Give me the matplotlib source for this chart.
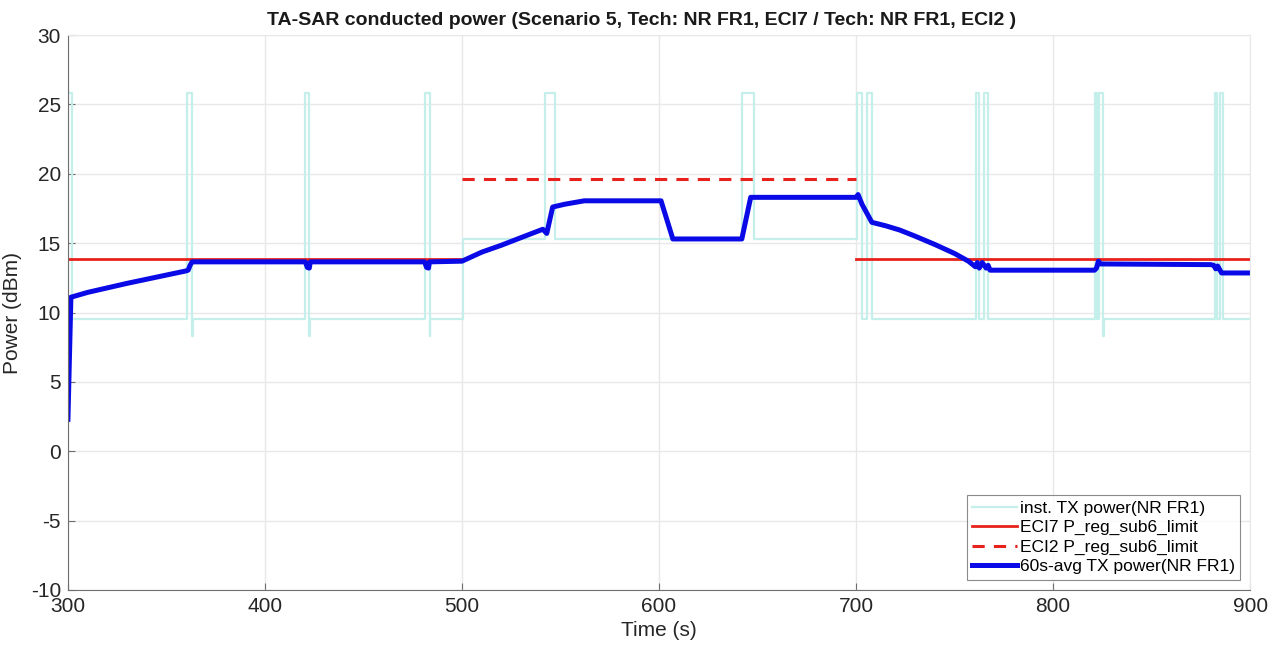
import numpy as np
import matplotlib.pyplot as plt

plt.rcParams['font.family'] = ['Liberation Sans', 'DejaVu Sans']
plt.rcParams['axes.unicode_minus'] = False

# instantaneous TX power, step trace (value holds until next time)
inst_t = [300, 302, 360.5, 363, 363.5, 420.5, 422.5, 423, 481, 483.5, 484,
          500.5, 542, 547, 642, 648,
          700.5, 703, 705.5, 708, 761, 762.5, 765, 767,
          821, 822.5, 823.5, 825.5, 826, 882, 883.2, 884.8, 886, 900]
inst_v = [25.8, 9.5, 25.8, 8.3, 9.5, 25.8, 8.3, 9.5, 25.8, 8.3, 9.5,
          15.3, 25.8, 15.3, 25.8, 15.3,
          25.8, 9.5, 25.8, 9.5, 25.8, 9.5, 25.8, 9.5,
          25.8, 9.5, 25.8, 8.3, 9.5, 25.8, 9.5, 25.8, 9.5, 9.5]

# 60 s average TX power
avg_t = [300, 301.5, 310, 330, 350, 360, 361, 362, 363,
         420.5, 421.5, 422.5, 423, 481, 482, 483, 483.5,
         500, 510, 520, 530, 541, 543, 546, 552, 562, 601, 607, 642, 646.5,
         700, 701, 703, 708, 715, 722, 730, 740, 750, 757, 760.5,
         761.5, 762.5, 764, 766, 767, 768, 821, 822, 823, 824,
         880, 881.5, 882.5, 883.5, 885.5, 900]
avg_v = [2.3, 11.1, 11.45, 12.1, 12.7, 13.0, 13.05, 13.4, 13.65,
         13.65, 13.25, 13.2, 13.65, 13.65, 13.25, 13.2, 13.65,
         13.7, 14.35, 14.85, 15.4, 16.0, 15.7, 17.6, 17.8, 18.05, 18.05, 15.3, 15.3, 18.3,
         18.3, 18.5, 17.8, 16.5, 16.25, 15.95, 15.5, 14.9, 14.25, 13.7, 13.3,
         13.6, 13.2, 13.6, 13.2, 13.4, 13.05, 13.05, 13.2, 13.7, 13.5,
         13.45, 13.4, 13.15, 13.35, 12.85, 12.85]

eci7_limit = 13.87
eci2_limit = 19.62
eci7_spans = [(300, 500), (700, 900)]
eci2_span = (500, 700)

fig = plt.figure(figsize=(12.77, 6.46), dpi=100)
ax = fig.add_axes([0.0532, 0.0867, 0.9258, 0.8591])

ax.step(inst_t, inst_v, where='post', color='#c4efeb', lw=1.6,
        label='inst. TX power(NR FR1)')
for i, (a, b) in enumerate(eci7_spans):
    ax.plot([a, b], [eci7_limit, eci7_limit], color='#e8211c', lw=2,
            label='ECI7 P_reg_sub6_limit' if i == 0 else None)
ax.plot(eci2_span, [eci2_limit, eci2_limit], color='#e8211c', lw=2.2,
        ls=(0, (4, 3)), label='ECI2 P_reg_sub6_limit')
ax.plot(avg_t, avg_v, color='#0a0ae6', lw=3.6, solid_joinstyle='round',
        label='60s-avg TX power(NR FR1)')

ax.set_xlim(300, 900)
ax.set_ylim(-10, 30)
ax.set_xticks(np.arange(300, 901, 100))
ax.set_yticks(np.arange(-10, 31, 5))
ax.grid(True, color='#e8e8e8', lw=1)
ax.set_axisbelow(True)
for s in ['top', 'right']:
    ax.spines[s].set_color('#e8e8e8')
for s in ['left', 'bottom']:
    ax.spines[s].set_color('#6e6e6e')
ax.tick_params(direction='in', length=5, colors='#6e6e6e', labelcolor='#262626',
               labelsize=15, pad=5)

ax.set_xlabel('Time (s)', fontsize=15, color='#262626', labelpad=4)
ax.set_ylabel('Power (dBm)', fontsize=15, color='#262626', labelpad=6)
ax.set_title('TA-SAR conducted power (Scenario 5, Tech: NR FR1, ECI7 / Tech: NR FR1, ECI2 )',
             fontsize=14, fontweight='bold', color='#1a1a1a', pad=7, x=0.485)

leg = ax.legend(loc='lower right', fontsize=12.5, frameon=True, fancybox=False,
                handlelength=2.6, handletextpad=0.15, borderpad=0.3,
                labelspacing=0.25, borderaxespad=0.6)
leg.get_frame().set_edgecolor('#6e6e6e')
leg.get_frame().set_linewidth(0.8)

fig.savefig('out.png', dpi=100)
